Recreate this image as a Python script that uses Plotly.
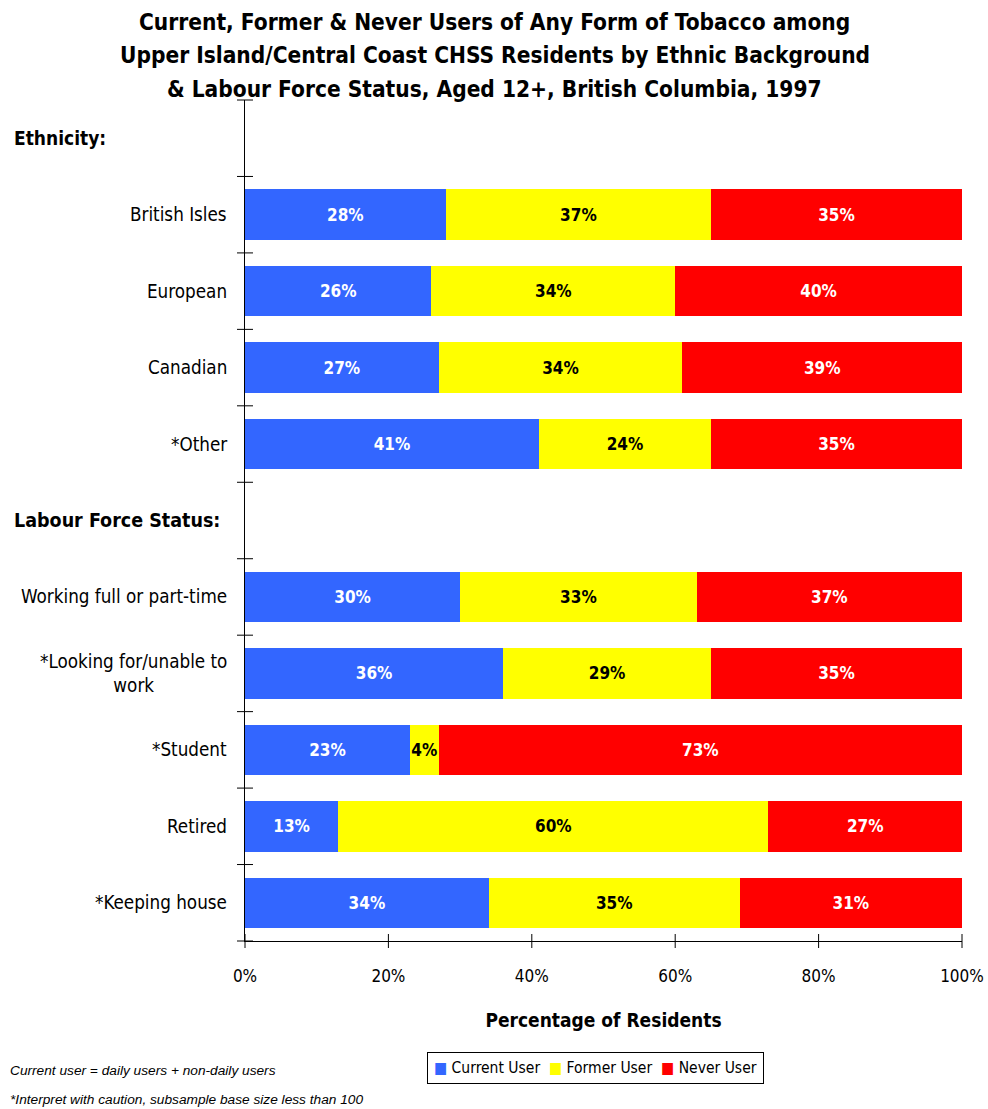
import plotly.graph_objects as go

# rows top to bottom; blank names are the section header rows
categories = [" ", "British Isles", "European", "Canadian", "*Other", "  ",
              "Working full or part-time", "*Looking for/unable to<br>work",
              "*Student", "Retired", "*Keeping house"]
current_user = [None, 28, 26, 27, 41, None, 30, 36, 23, 13, 34]
former_user = [None, 37, 34, 34, 24, None, 33, 29, 4, 60, 35]
never_user = [None, 35, 40, 39, 35, None, 37, 35, 73, 27, 31]
x_ticks = [0, 20, 40, 60, 80, 100]
title_lines = [
    "Current, Former & Never Users of Any Form of Tobacco among",
    "Upper Island/Central Coast CHSS Residents by Ethnic Background",
    "& Labour Force Status, Aged 12+, British Columbia, 1997",
]

FONT = "DejaVu Sans Condensed, DejaVu Sans"
NOTE_FONT = "Liberation Sans"

series = [
    ("Current User", current_user, "#3366FF", "white"),
    ("Former User", former_user, "#FFFF00", "black"),
    ("Never User", never_user, "#FF0000", "white"),
]

fig = go.Figure()
for name, vals, color, tcolor in series:
    fig.add_trace(go.Bar(
        y=categories, x=vals, name=name, orientation="h",
        marker=dict(color=color, line=dict(width=0)),
        text=[f"{v}%" if v is not None else "" for v in vals],
        textposition="inside", insidetextanchor="middle", textangle=0,
        textfont=dict(family=FONT, size=17, color=tcolor, weight="bold"),
        constraintext="none", showlegend=False,
    ))

# tick marks that cross the axes (plotly only draws one side)
shapes = []
n = len(categories)
for i in range(n + 1):
    shapes.append(dict(type="line", xref="paper", yref="paper", xsizemode="pixel", xanchor=0,
                       x0=-8, x1=8, y0=1 - i / n, y1=1 - i / n,
                       line=dict(color="black", width=1)))
for v in x_ticks:
    shapes.append(dict(type="line", xref="paper", yref="paper", ysizemode="pixel", yanchor=0,
                       x0=v / 100, x1=v / 100, y0=-7, y1=7,
                       line=dict(color="black", width=1)))

annotations = []
for k, line in enumerate(title_lines):
    annotations.append(dict(text=f"<b>{line}</b>", xref="paper", yref="paper",
                            x=0.348, y=1 + (78 - 33.5 * k) / 841, xanchor="center",
                            yanchor="middle", showarrow=False,
                            font=dict(family=FONT, size=22.5)))

# category labels (centred when wrapped, like the original)
for cat in categories:
    if cat.strip():
        annotations.append(dict(text=cat, xref="paper", yref="y", x=-16 / 717, y=cat,
                                xanchor="right", yanchor="middle", align="center",
                                showarrow=False, font=dict(size=18.7)))

# legend drawn as one boxed line of text
legend_text = "&nbsp;&nbsp;".join(
    f"<span style='color:{c}'>■</span> {name}" for name, _, c, _ in series)

annotations += [
    dict(text="<b>Ethnicity:</b>", xref="paper", yref="y", x=-0.325, y=" ",
         xanchor="left", showarrow=False, font=dict(size=19)),
    dict(text="<b>Labour Force Status:</b>", xref="paper", yref="y", x=-0.325, y="  ",
         xanchor="left", showarrow=False, font=dict(size=19.5)),
    dict(text="<i>Current user = daily users + non-daily users</i>", xref="paper",
         yref="paper", x=-0.33, y=-(1070 - 941) / 841, xanchor="left", yanchor="middle",
         showarrow=False, font=dict(family=NOTE_FONT, size=13.7)),
    dict(text="<i>*Interpret with caution, subsample base size less than 100</i>",
         xref="paper", yref="paper", x=-0.33, y=-(1099 - 941) / 841, xanchor="left",
         yanchor="middle", showarrow=False, font=dict(family=NOTE_FONT, size=13.7)),
    dict(text=legend_text, xref="paper", yref="paper", x=(595 - 245) / 717,
         y=-(1067.5 - 941) / 841, xanchor="center", yanchor="middle", showarrow=False,
         bordercolor="black", borderwidth=1, borderpad=6, bgcolor="white",
         font=dict(size=15.5)),
]

fig.update_layout(
    barmode="stack",
    bargap=0.34,
    width=988, height=1109,
    paper_bgcolor="white", plot_bgcolor="white",
    margin=dict(l=245, r=26, t=100, b=168, autoexpand=False),
    font=dict(family=FONT, size=17, color="black"),
    uniformtext=dict(minsize=17, mode="show"),
    showlegend=False,
    xaxis=dict(
        range=[0, 100], tickvals=x_ticks, ticktext=[f"{v}%" for v in x_ticks],
        ticks="", showline=True, linecolor="black", linewidth=1,
        showgrid=False, zeroline=False, ticklabelstandoff=20, automargin=False,
        tickfont=dict(size=17),
        title=dict(text="<b>Percentage of Residents</b>", font=dict(size=19), standoff=28),
    ),
    yaxis=dict(
        type="category", autorange="reversed", ticks="", showticklabels=False,
        showline=True, linecolor="black", linewidth=1, automargin=False,
        showgrid=False, zeroline=False,
    ),
    shapes=shapes,
    annotations=annotations,
)

fig.write_html("out.html", config={"displayModeBar": False},
               post_script="document.body.style.margin='0';")
